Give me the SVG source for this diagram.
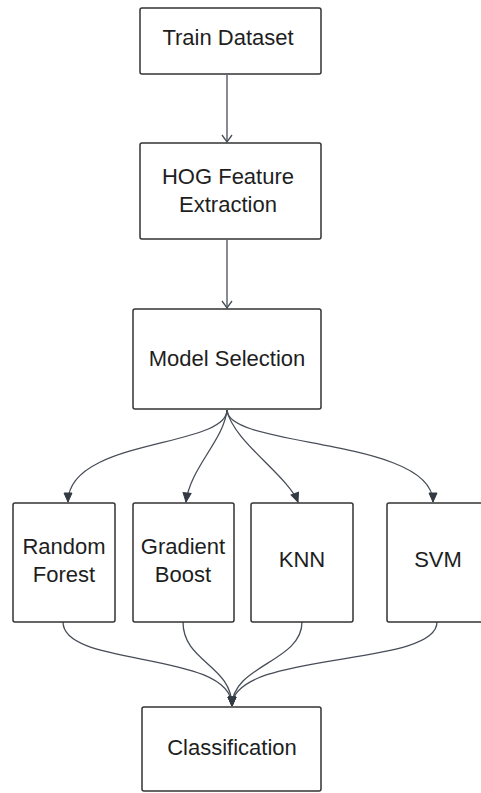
<svg xmlns="http://www.w3.org/2000/svg" width="481" height="793" viewBox="0 0 481 793">
<style>
.box{fill:#ffffff;stroke:#333333;stroke-width:1.5}
.lbl{font-family:"Liberation Sans",Arial,sans-serif;font-size:22px;fill:#1e1e1e;text-anchor:middle}
.c{fill:none;stroke:#474d57;stroke-width:1.3}
</style>
<defs>
<marker id="open" markerWidth="12" markerHeight="12" refX="9" refY="6" orient="auto" markerUnits="userSpaceOnUse">
<path d="M2,1 L9,6 L2,11" fill="none" stroke="#474d57" stroke-width="1.3"/>
</marker>
<marker id="fill" markerWidth="12" markerHeight="12" refX="10" refY="6" orient="auto" markerUnits="userSpaceOnUse">
<path d="M1,2 L10,6 L1,10 Z" fill="#333a44" stroke="#333a44" stroke-width="1"/>
</marker>
</defs>
<rect width="481" height="793" fill="#ffffff"/>
<g id="connectors">
<path class="c" d="M227,75 L227,142" marker-end="url(#open)"/>
<path class="c" d="M227,240 L227,308" marker-end="url(#open)"/>
<path class="c" d="M227,410 C227,448 68,438 68,502" marker-end="url(#fill)"/>
<path class="c" d="M227,410 C224,440 190,468 186,502" marker-end="url(#fill)"/>
<path class="c" d="M227,410 C232,440 288,476 298,502" marker-end="url(#fill)"/>
<path class="c" d="M227,410 C227,448 433,438 433,502" marker-end="url(#fill)"/>
<path class="c" d="M63,622 C63,668 232,650 232,706" marker-end="url(#fill)"/>
<path class="c" d="M183,622 C183,662 232,665 232,706" marker-end="url(#fill)"/>
<path class="c" d="M302,622 C302,662 232,665 232,706" marker-end="url(#fill)"/>
<path class="c" d="M437,622 C437,668 232,650 232,706" marker-end="url(#fill)"/>
</g>
<g id="train">
<rect class="box" x="140" y="8" width="181" height="66" rx="2"/>
<text class="lbl" x="228" y="45">Train Dataset</text>
</g>
<g id="hog">
<rect class="box" x="140" y="143" width="181" height="96" rx="2"/>
<text class="lbl" x="228" y="184">HOG Feature</text>
<text class="lbl" x="228" y="212">Extraction</text>
</g>
<g id="model">
<rect class="box" x="133" y="309" width="188" height="100" rx="2"/>
<text class="lbl" x="227" y="366">Model Selection</text>
</g>
<g id="rf">
<rect class="box" x="13" y="503" width="102" height="119" rx="2"/>
<text class="lbl" x="64" y="554">Random</text>
<text class="lbl" x="64" y="582">Forest</text>
</g>
<g id="gb">
<rect class="box" x="133" y="503" width="101" height="119" rx="2"/>
<text class="lbl" x="183" y="554">Gradient</text>
<text class="lbl" x="183" y="582">Boost</text>
</g>
<g id="knn">
<rect class="box" x="251" y="503" width="102" height="119" rx="2"/>
<text class="lbl" x="302" y="567">KNN</text>
</g>
<g id="svm">
<rect class="box" x="387" y="503" width="102" height="119" rx="2"/>
<text class="lbl" x="438" y="567">SVM</text>
</g>
<g id="classification">
<rect class="box" x="142" y="707" width="179" height="84" rx="2"/>
<text class="lbl" x="232" y="755">Classification</text>
</g>
</svg>
